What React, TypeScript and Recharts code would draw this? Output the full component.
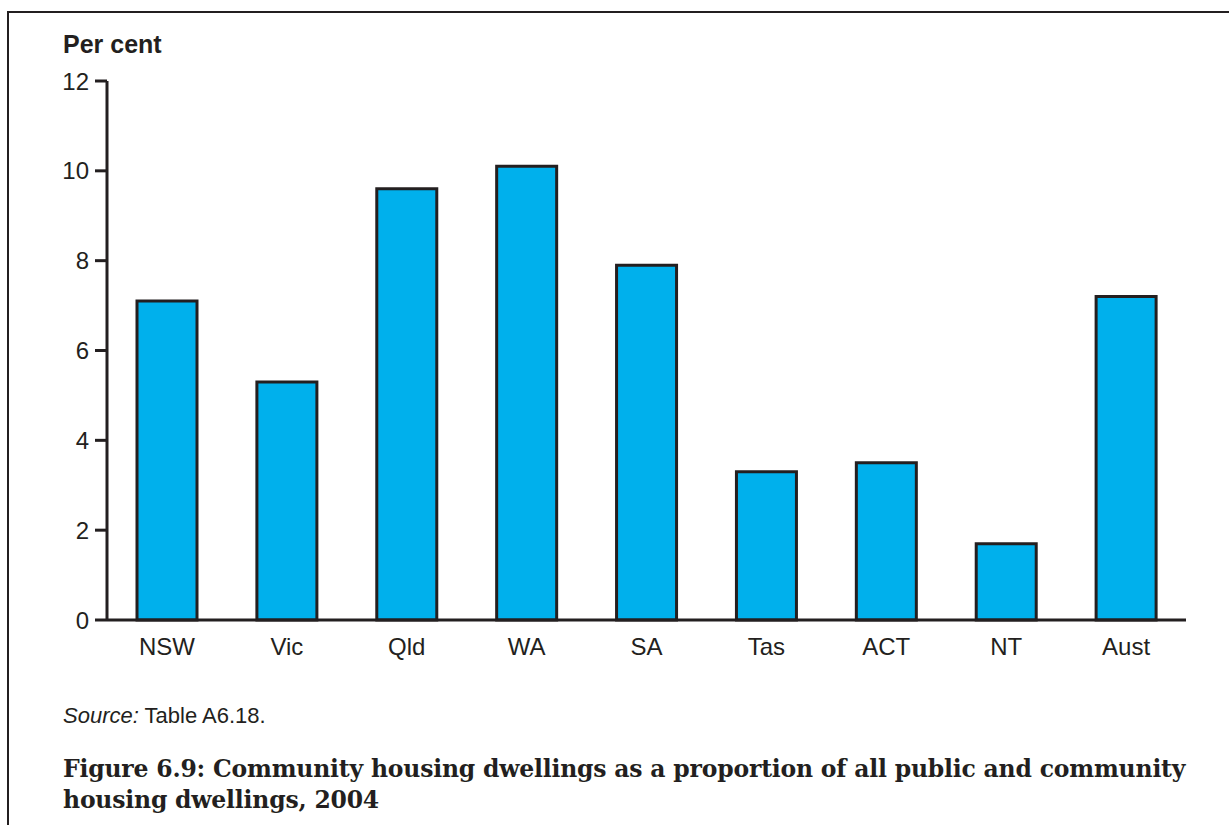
import { BarChart, Bar, XAxis, YAxis } from "recharts";

const STATES = ["NSW", "Vic", "Qld", "WA", "SA", "Tas", "ACT", "NT", "Aust"];
const SHARES = [7.1, 5.3, 9.6, 10.1, 7.9, 3.3, 3.5, 1.7, 7.2];
const Y_TICKS = [0, 2, 4, 6, 8, 10, 12];

const INK = "#231f20";
const SANS = "'Liberation Sans', Arial, sans-serif";

const data = STATES.map((state, i) => ({ state, share: SHARES[i] }));

export default function App() {
  return (
    <div
      style={{
        position: "absolute",
        left: 0,
        top: 0,
        width: 1229,
        height: 825,
        background: "#fff",
        overflow: "hidden",
        fontFamily: SANS,
        color: INK,
      }}
    >
      {/* figure frame, runs off the right and bottom edges */}
      <div
        style={{
          position: "absolute",
          left: 7,
          top: 11,
          width: 1300,
          height: 900,
          borderLeft: `2px solid ${INK}`,
          borderTop: `2px solid ${INK}`,
        }}
      />
      <div
        style={{
          position: "absolute",
          left: 63,
          top: 29,
          fontSize: 25,
          lineHeight: "30px",
          fontWeight: 700,
        }}
      >
        Per cent
      </div>
      <div style={{ position: "absolute", left: 0, top: 0 }}>
        <BarChart
          width={1229}
          height={670}
          data={data}
          margin={{ top: 81, right: 43, left: 0, bottom: 0 }}
        >
          <XAxis
            dataKey="state"
            height={50}
            stroke={INK}
            strokeWidth={3}
            tickLine={false}
            tickMargin={12}
            tick={{ fontSize: 24, fill: INK, fontFamily: SANS }}
          />
          <YAxis
            width={107}
            domain={[0, 12]}
            ticks={Y_TICKS}
            stroke={INK}
            strokeWidth={3}
            tickSize={12}
            tickMargin={6}
            tick={{ fontSize: 24, fill: INK, fontFamily: SANS }}
          />
          <Bar
            dataKey="share"
            barSize={60}
            fill="#00b0ec"
            stroke={INK}
            strokeWidth={3}
            isAnimationActive={false}
          />
        </BarChart>
      </div>
      <div
        style={{
          position: "absolute",
          left: 63,
          top: 703,
          fontSize: 22,
          lineHeight: "26px",
        }}
      >
        <i>Source:</i> Table A6.18.
      </div>
      <div
        style={{
          position: "absolute",
          left: 63,
          top: 754,
          width: 1160,
          fontSize: 23.5,
          letterSpacing: -0.2,
          lineHeight: "31px",
          fontWeight: 700,
          fontFamily: "'DejaVu Serif', serif",
          whiteSpace: "nowrap",
        }}
      >
        Figure 6.9: Community housing dwellings as a proportion of all public and community
        <br />
        housing dwellings, 2004
      </div>
    </div>
  );
}
